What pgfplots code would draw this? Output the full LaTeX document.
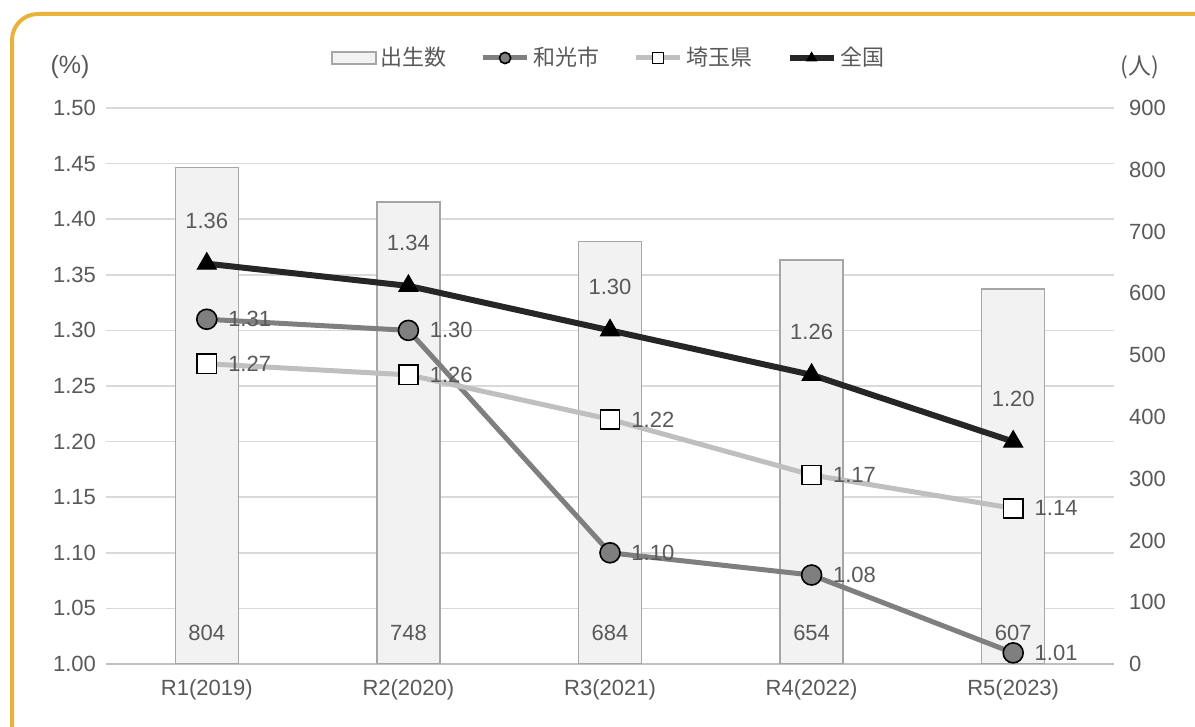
\documentclass[border=0pt]{standalone}
\usepackage{pgfplots}
\pgfplotsset{compat=1.18}
\usepackage{fontspec}
\setmainfont{Liberation Sans}
\newfontfamily\jp{Noto Sans CJK JP}
\definecolor{txt}{HTML}{595959}
\definecolor{gridc}{HTML}{D9D9D9}
\definecolor{framec}{HTML}{E9B23A}
\definecolor{barfill}{HTML}{F2F2F2}
\definecolor{barline}{HTML}{A6A6A6}
\definecolor{wako}{HTML}{7F7F7F}
\definecolor{saitama}{HTML}{BFBFBF}
\definecolor{zenkoku}{HTML}{262626}
\begin{document}
\begin{tikzpicture}[x=1pt,y=1pt]
\useasboundingbox (0,0) rectangle (597.5,363.5);
\begin{scope}
\clip (0,0) rectangle (597.5,363.5);
\draw[framec, line width=2pt, rounded corners=13pt] (6,-30) rectangle (640,356.5);
\end{scope}
\pgfplotsset{base/.style={at={(53pt,31.5pt)}, anchor=south west, scale only axis,
  width=504pt, height=278pt, xmin=-0.5, xmax=4.5,
  tick style={draw=none},
  ticklabel style={font=\fontsize{11}{13}\selectfont, text=txt},
  /pgf/number format/assume math mode=true}}
% grid + left axis + x labels
\begin{axis}[base, ymin=1.00, ymax=1.50, clip=false,
  axis x line*=bottom, axis y line*=left,
  x axis line style={draw=saitama, line width=0.75pt, -},
  y axis line style={draw=none},
  ytick={1.00,1.05,...,1.51}, ymajorgrids,
  major grid style={gridc, line width=0.75pt},
  yticklabel style={/pgf/number format/fixed, /pgf/number format/fixed zerofill, /pgf/number format/precision=2, xshift=-1.5pt},
  xtick={0,1,2,3,4},
  xticklabels={R1(2019),R2(2020),R3(2021),R4(2022),R5(2023)},
  xticklabel style={yshift=-4pt},
  ]
\addplot[draw=none] coordinates {(0,1.2)};
\node[font=\fontsize{12.5}{14}\selectfont, text=txt] at (rel axis cs:0,1) [xshift=-18pt, yshift=20.5pt] {(\%)};
\node[font=\jp\fontsize{11.5}{13}\selectfont, text=txt] at (rel axis cs:1,1) [xshift=13pt, yshift=20.5pt] {(人)};
\end{axis}
% bars, right axis
\begin{axis}[base, ymin=0, ymax=900,
  axis x line=none, axis y line*=right,
  axis line style={draw=none},
  ytick={0,100,...,900},
  xtick=\empty,
  yticklabel style={xshift=4pt},
  ]
\addplot[ybar, bar width=31.5pt, fill=barfill, draw=barline, line width=0.7pt]
  coordinates {(0,804) (1,748) (2,684) (3,654) (4,607)};
\addplot[draw=none, mark=none, nodes near coords, point meta=explicit symbolic,
  nodes near coords style={anchor=center, font=\fontsize{11}{13}\selectfont, text=txt}]
  coordinates {(0,50)[804] (1,50)[748] (2,50)[684] (3,50)[654] (4,50)[607]};
\end{axis}
% lines
\begin{axis}[base, ymin=1.00, ymax=1.50,
  axis lines=none, xtick=\empty, ytick=\empty,
  legend columns=4,
  legend style={draw=none, fill=none, at={(0.5,1)}, anchor=center, yshift=25pt,
    font=\jp\fontsize{11}{13}\selectfont, text=txt,
    /tikz/every even column/.append style={column sep=15pt}},
  lineleg/.style={legend image code/.code={
    \draw[mark repeat=2,mark phase=2,##1,mark size=2.8pt] plot coordinates {(0pt,0pt) (11pt,0pt) (22pt,0pt)};}},
  ]
\addlegendimage{legend image code/.code={\draw[fill=barfill, draw=barline, line width=0.6pt] (0pt,-3pt) rectangle (22pt,3pt);}}
\addlegendentry{出生数}
\addplot[wako, line width=2.5pt, mark=*, mark size=5pt,
  mark options={fill=wako, draw=black, line width=0.8pt}, lineleg,
  nodes near coords, point meta=explicit symbolic,
  nodes near coords style={anchor=west, xshift=7pt, font=\fontsize{11}{13}\selectfont, text=txt}]
  coordinates {(0,1.31)[1.31] (1,1.30)[1.30] (2,1.10)[1.10] (3,1.08)[1.08] (4,1.01)[1.01]};
\addlegendentry{和光市}
\addplot[saitama, line width=2.5pt, mark=square*, mark size=4.8pt,
  mark options={fill=white, draw=black, line width=0.8pt}, lineleg,
  nodes near coords, point meta=explicit symbolic,
  nodes near coords style={anchor=west, xshift=7pt, font=\fontsize{11}{13}\selectfont, text=txt}]
  coordinates {(0,1.27)[1.27] (1,1.26)[1.26] (2,1.22)[1.22] (3,1.17)[1.17] (4,1.14)[1.14]};
\addlegendentry{埼玉県}
\addplot[zenkoku, line width=3pt, mark=triangle*, mark size=5.5pt,
  mark options={fill=black, draw=black, line width=0.5pt}, lineleg,
  nodes near coords, point meta=explicit symbolic,
  nodes near coords style={anchor=center, yshift=21.5pt, font=\fontsize{11}{13}\selectfont, text=txt}]
  coordinates {(0,1.36)[1.36] (1,1.34)[1.34] (2,1.30)[1.30] (3,1.26)[1.26] (4,1.20)[1.20]};
\addlegendentry{全国}
\end{axis}
\end{tikzpicture}
\end{document}
